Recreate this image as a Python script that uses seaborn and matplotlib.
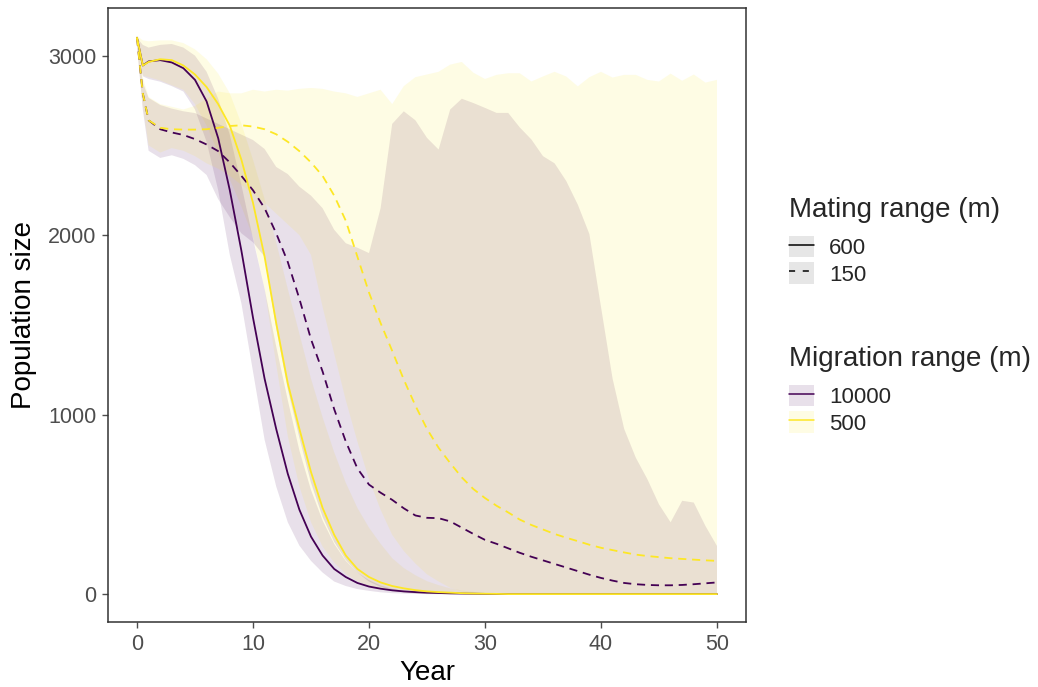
import matplotlib
matplotlib.use("Agg")
import matplotlib.pyplot as plt
import pandas as pd
import seaborn as sns
from matplotlib.patches import Patch
from matplotlib.lines import Line2D
from matplotlib.legend_handler import HandlerTuple

# ---------------------------------------------------------------- data
years = [0, 0.5, 1, 2, 3, 4, 5, 6, 7, 8, 9, 10, 11, 12, 13, 14, 15, 16, 17, 18, 19, 20,
         21, 22, 23, 24, 25, 26, 27, 28, 29, 30, 31, 32, 33, 34, 35, 36, 37, 38, 39, 40,
         41, 42, 43, 44, 45, 46, 47, 48, 49, 50]

# mean population size per scenario (mating range / migration range)
mean_600_10000 = [3100, 2945, 2968, 2975, 2962, 2930, 2865, 2745, 2540, 2250, 1913, 1540,
                  1200, 920, 670, 470, 320, 215, 140, 95, 62, 42, 30, 21, 15, 11, 8, 6, 4,
                  3, 2, 1, 0, 0, 0, 0, 0, 0, 0, 0, 0, 0, 0, 0, 0, 0, 0, 0, 0, 0, 0, 0]
mean_600_500 = [3100, 2945, 2965, 2980, 2975, 2945, 2895, 2825, 2730, 2610, 2420, 2180,
                1880, 1510, 1174, 920, 680, 480, 330, 215, 140, 95, 65, 45, 32, 22, 15, 11,
                8, 5, 3, 2, 1, 0, 0, 0, 0, 0, 0, 0, 0, 0, 0, 0, 0, 0, 0, 0, 0, 0, 0, 0]
mean_150_10000 = [3100, 2790, 2640, 2590, 2572, 2558, 2535, 2505, 2468, 2405, 2330, 2250,
                  2150, 2010, 1850, 1645, 1420, 1240, 1030, 850, 700, 610, 565, 525, 478,
                  438, 425, 423, 405, 370, 335, 302, 280, 255, 230, 208, 188, 168, 148, 128,
                  108, 90, 75, 62, 55, 51, 49, 49, 51, 55, 60, 65]
mean_150_500 = [3100, 2790, 2640, 2598, 2590, 2588, 2588, 2590, 2598, 2608, 2612, 2605,
                2590, 2562, 2520, 2468, 2405, 2330, 2220, 2080, 1880, 1680, 1510, 1355,
                1195, 1050, 920, 815, 730, 650, 585, 535, 492, 455, 415, 385, 360, 335, 314,
                295, 275, 258, 245, 232, 220, 212, 206, 200, 196, 192, 188, 185]

# ribbon bounds (lower / upper) per scenario
lo_600_10000 = [3080, 2885, 2870, 2855, 2830, 2800, 2700, 2520, 2250, 1890, 1620, 1240,
                860, 600, 400, 270, 185, 120, 70, 45, 28, 18, 10, 5, 3, 1, 0, 0, 0, 0, 0,
                0, 0, 0, 0, 0, 0, 0, 0, 0, 0, 0, 0, 0, 0, 0, 0, 0, 0, 0, 0, 0]
hi_600_10000 = [3100, 3060, 3045, 3060, 3065, 3045, 3000, 2910, 2760, 2560, 2280, 1980,
                1700, 1380, 1080, 800, 580, 410, 280, 185, 120, 78, 48, 30, 18, 11, 6, 3,
                1, 0, 0, 0, 0, 0, 0, 0, 0, 0, 0, 0, 0, 0, 0, 0, 0, 0, 0, 0, 0, 0, 0, 0]
lo_600_500 = [3080, 2890, 2880, 2862, 2835, 2810, 2730, 2610, 2460, 2310, 2160, 1990,
              1700, 1280, 880, 600, 400, 265, 175, 112, 72, 46, 29, 17, 10, 5, 2, 0, 0, 0,
              0, 0, 0, 0, 0, 0, 0, 0, 0, 0, 0, 0, 0, 0, 0, 0, 0, 0, 0, 0, 0, 0]
hi_600_500 = [3110, 3085, 3080, 3085, 3085, 3070, 3035, 2980, 2900, 2790, 2620, 2420,
              2200, 1960, 1700, 1450, 1200, 985, 790, 620, 480, 370, 280, 200, 145, 105,
              72, 50, 32, 20, 12, 6, 3, 0, 0, 0, 0, 0, 0, 0, 0, 0, 0, 0, 0, 0, 0, 0, 0, 0,
              0, 0]
lo_150_10000 = [3050, 2700, 2470, 2430, 2445, 2425, 2390, 2335, 2200, 2100, 2010, 1960,
                1880, 1480, 1140, 870, 620, 430, 290, 190, 120, 70, 40, 20, 10, 4, 0, 0, 0,
                0, 0, 0, 0, 0, 0, 0, 0, 0, 0, 0, 0, 0, 0, 0, 0, 0, 0, 0, 0, 0, 0, 0]
hi_150_10000 = [3100, 2850, 2765, 2725, 2705, 2690, 2680, 2650, 2620, 2590, 2560, 2530,
                2480, 2380, 2340, 2270, 2220, 2150, 2030, 1955, 1930, 1900, 2150, 2620,
                2690, 2640, 2542, 2477, 2700, 2760, 2736, 2709, 2681, 2681, 2600, 2533,
                2440, 2400, 2302, 2170, 2006, 1600, 1200, 920, 760, 640, 500, 400, 520,
                510, 380, 268]
lo_150_500 = [3050, 2720, 2500, 2460, 2485, 2470, 2440, 2400, 2370, 2330, 2280, 2230,
              2180, 2120, 2060, 2000, 1890, 1600, 1340, 1080, 850, 640, 470, 330, 240, 170,
              110, 70, 35, 15, 5, 0, 0, 0, 0, 0, 0, 0, 0, 0, 0, 0, 0, 0, 0, 0, 0, 0, 0, 0,
              0, 0]
hi_150_500 = [3100, 2880, 2770, 2730, 2715, 2700, 2720, 2760, 2800, 2790, 2790, 2810,
              2800, 2810, 2805, 2815, 2820, 2815, 2800, 2790, 2770, 2790, 2810, 2730, 2830,
              2880, 2895, 2910, 2950, 2965, 2905, 2870, 2893, 2902, 2902, 2856, 2884, 2910,
              2884, 2829, 2880, 2910, 2878, 2893, 2893, 2865, 2856, 2900, 2860, 2895, 2850,
              2865]

mating_levels = ["600", "150"]
migration_levels = ["10000", "500"]

# ---------------------------------------------------------------- style
PURPLE = "#440154"
YELLOW = "#FDE725"
RIBBON_ALPHA = 0.12
LINE_W = 1.3

sns.set_theme(style="ticks")
plt.rcParams["font.family"] = ["Liberation Sans", "DejaVu Sans"]

scenarios = [
    ("600", "10000", mean_600_10000, lo_600_10000, hi_600_10000),
    ("600", "500", mean_600_500, lo_600_500, hi_600_500),
    ("150", "10000", mean_150_10000, lo_150_10000, hi_150_10000),
    ("150", "500", mean_150_500, lo_150_500, hi_150_500),
]
palette = {"10000": PURPLE, "500": YELLOW}

rows = []
for mating, migration, mean, lo, hi in scenarios:
    for t, m in zip(years, mean):
        rows.append({"Year": t, "Population size": m,
                     "Mating range (m)": mating, "Migration range (m)": migration})
df = pd.DataFrame(rows)

fig = plt.figure(figsize=(10.38, 6.87), dpi=100)
ax = fig.add_axes([108 / 1038, 1 - 622 / 687, (746 - 108) / 1038, (622 - 8) / 687])

# uncertainty ribbons
for mating, migration, mean, lo, hi in scenarios:
    ax.fill_between(years, lo, hi, color=palette[migration], alpha=RIBBON_ALPHA,
                    linewidth=0, edgecolor="none")

# mean trajectories
sns.lineplot(data=df, x="Year", y="Population size",
             hue="Migration range (m)", hue_order=migration_levels,
             style="Mating range (m)", style_order=mating_levels,
             palette=palette, dashes={"600": "", "150": (4.5, 3.2)},
             linewidth=LINE_W, errorbar=None, legend=False, ax=ax)

ax.set_xlim(-2.5, 52.5)
ax.set_ylim(-155.5, 3265.5)
ax.set_xticks([0, 10, 20, 30, 40, 50])
ax.set_yticks([0, 1000, 2000, 3000])
ax.set_xlabel("Year", fontsize=20, labelpad=4, color="black")
ax.set_ylabel("Population size", fontsize=20, labelpad=8, color="black")
ax.tick_params(axis="both", labelsize=15.5, colors="#4D4D4D", length=4.5, width=1.0,
               pad=4)
for s in ax.spines.values():
    s.set_visible(True)
    s.set_color("#333333")
    s.set_linewidth(1.1)
ax.grid(False)

# legends
key_kw = dict(handler_map={tuple: HandlerTuple(ndivide=1, pad=0)},
              frameon=False, fontsize=16, title_fontsize=20, handlelength=1.13,
              handleheight=1.13, labelspacing=0.15, handletextpad=0.68,
              borderpad=0, borderaxespad=0, alignment="left")

mating_handles = [
    (Patch(facecolor="#E6E6E6", edgecolor="none"),
     Line2D([], [], color="black", lw=1.1)),
    (Patch(facecolor="#E6E6E6", edgecolor="none"),
     Line2D([], [], color="black", lw=1.1, dashes=(4, 5))),
]
leg1 = fig.legend(mating_handles, mating_levels, title="Mating range (m)",
                  loc="upper left", bbox_to_anchor=(789 / 1038, 1 - 197 / 687), **key_kw)
leg1._legend_box.sep = 9

migration_handles = [
    (Patch(facecolor=PURPLE, alpha=RIBBON_ALPHA, edgecolor="none"),
     Line2D([], [], color=PURPLE, lw=1.1)),
    (Patch(facecolor=YELLOW, alpha=RIBBON_ALPHA, edgecolor="none"),
     Line2D([], [], color=YELLOW, lw=1.1)),
]
leg2 = fig.legend(migration_handles, migration_levels, title="Migration range (m)",
                  loc="upper left", bbox_to_anchor=(789 / 1038, 1 - 346 / 687), **key_kw)
leg2._legend_box.sep = 9

fig.savefig("out.png", dpi=100)
